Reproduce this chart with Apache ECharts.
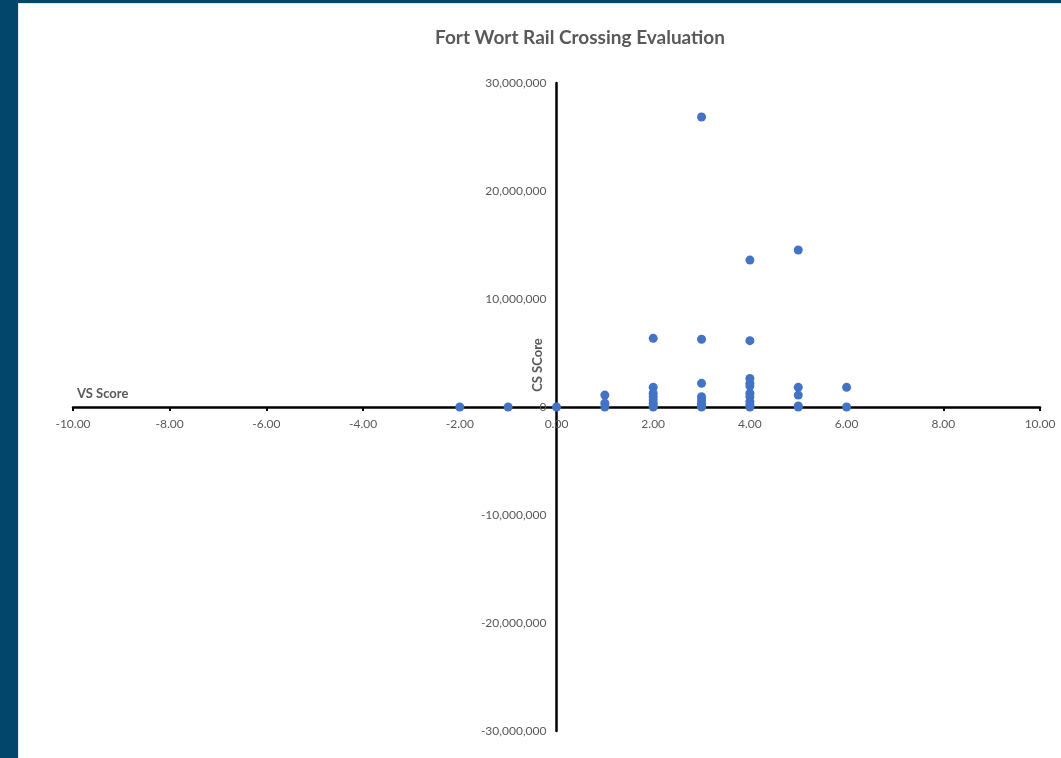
<!DOCTYPE html>
<html>
<head>
<meta charset="utf-8">
<script src="https://cdn.jsdelivr.net/npm/echarts@6/dist/echarts.min.js"></script>
<style>
  html, body { margin: 0; padding: 0; width: 1061px; height: 758px; background: #02466b; overflow: hidden; }
  #chart { position: absolute; left: 18px; top: 3px; width: 1043px; height: 755px; background: #ffffff; box-shadow: inset 1px 1px 0 #e4e4e4; }
</style>
</head>
<body>
<div id="chart"></div>
<script>
const titleText = 'Fort Wort Rail Crossing Evaluation';
const xAxisName = 'VS Score';
const yAxisName = 'CS SCore';
// VS Score per crossing
const vsScore = [-2, -1, 0,
  1, 1, 1,
  2, 2, 2, 2, 2, 2, 2, 2,
  3, 3, 3, 3, 3, 3, 3, 3,
  4, 4, 4, 4, 4, 4, 4, 4, 4, 4,
  5, 5, 5, 5, 5,
  6, 6];
// CS Score per crossing
const csScore = [0, 0, 0,
  1100000, 350000, 0,
  6360000, 1820000, 1270000, 950000, 650000, 340000, 100000, 0,
  26850000, 6270000, 2190000, 950000, 650000, 340000, 100000, 0,
  13600000, 6140000, 2650000, 2190000, 1940000, 1270000, 950000, 500000, 200000, 0,
  14540000, 1820000, 1100000, 100000, 0,
  1820000, 0];

const points = vsScore.map((v, i) => [v, csScore[i]]);
const font = 'Lato, "Open Sans", sans-serif';
const W = 1043, H = 755;
const G = { left: 55, right: 21, top: 80, bottom: 27 };
const gridW = W - G.left - G.right, gridH = H - G.top - G.bottom;
const chart = echarts.init(document.getElementById('chart'));
chart.setOption({
  animation: false,
  textStyle: { fontFamily: font },
  title: {
    text: titleText, left: 557, top: 20, textAlign: 'center',
    textStyle: { fontFamily: font, fontSize: 19, fontWeight: 'bold', color: '#595959' }
  },
  grid: Object.assign({ outerBoundsMode: 'none', containLabel: false }, G),
  xAxis: {
    type: 'value', min: -10, max: 10, interval: 2, position: 'bottom',
    offset: -gridH / 2,
    axisLine: { onZero: false, lineStyle: { color: '#000000', width: 2.5 } },
    axisTick: { show: true, length: 4, lineStyle: { color: '#000000', width: 2 } },
    axisLabel: { formatter: v => v.toFixed(2), color: '#595959', fontSize: 12, margin: 11, fontFamily: font },
    splitLine: { show: false }
  },
  yAxis: {
    type: 'value', min: -30000000, max: 30000000, interval: 10000000, position: 'left',
    offset: -gridW / 2,
    axisLine: { show: true, onZero: false, lineStyle: { color: '#000000', width: 2.5 } },
    axisTick: { show: false },
    axisLabel: { formatter: v => v.toLocaleString('en-US'), color: '#595959', fontSize: 12, margin: 10, fontFamily: font },
    splitLine: { show: false }
  },
  graphic: [
    { type: 'text', left: 59, top: 384, style: { text: xAxisName, fontFamily: font, fontSize: 13, fontWeight: 'bold', fill: '#595959' } },
    { type: 'text', x: 520, y: 362, rotation: Math.PI / 2, style: { text: yAxisName, fontFamily: font, fontSize: 13, fontWeight: 'bold', fill: '#595959', align: 'center', verticalAlign: 'middle' } }
  ],
  series: [{
    type: 'scatter', data: points, symbolSize: 9,
    itemStyle: { color: '#4472c4', opacity: 1 }
  }]
});
</script>
</body>
</html>
